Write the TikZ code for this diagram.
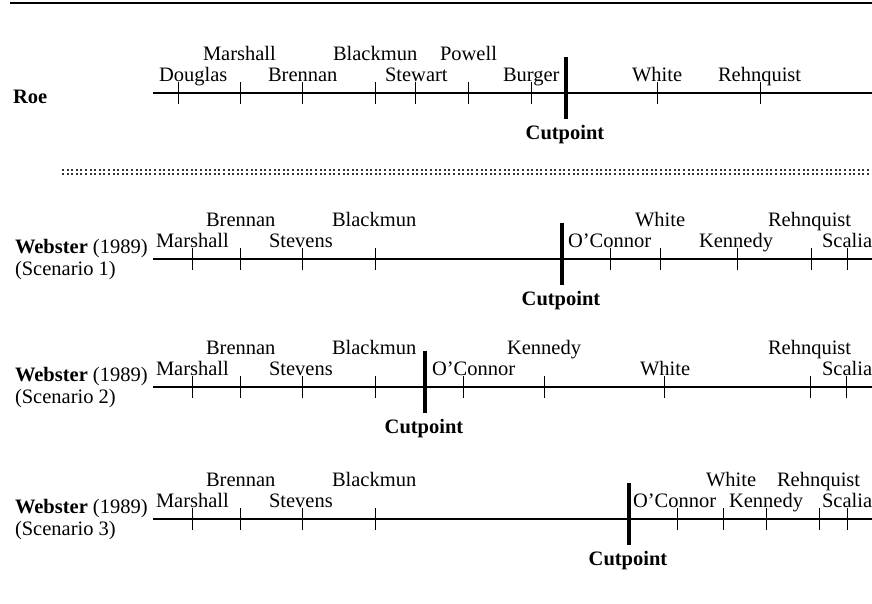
\documentclass[tikz,border=0pt]{standalone}
\usepackage{fontspec}
\setmainfont{Liberation Serif}
\begin{document}
\begin{tikzpicture}[x=1pt,y=-1pt]
\tikzset{
  txt/.style={inner sep=0pt, outer sep=0pt, font=\fontsize{20.5}{24}\selectfont},
  judge/.style={txt, anchor=base west},
  cutlabel/.style={txt, anchor=base, font=\fontsize{20.5}{24}\selectfont\bfseries},
  rowname/.style={txt, anchor=base west},
  axisline/.style={line width=1.4pt},
  tickmark/.style={line width=1pt},
  cutbar/.style={line width=4pt},
  rule/.style={line width=2pt},
  dotrow/.style={line width=2pt, black!80, dash pattern=on 2pt off 2.6pt}
}
\useasboundingbox (0,0) rectangle (872,603);

% top rule
\coordinate (ruleL) at (10,3);
\coordinate (ruleR) at (872,3);
\draw[rule] (ruleL) -- (ruleR);

% ---------- Roe ----------
\begin{scope}[shift={(0,93)}]
  \node[rowname, font=\fontsize{20.5}{24}\selectfont\bfseries] (roe) at (13,10) {Roe};
  \coordinate (roeL) at (153,0);
  \coordinate (roeR) at (872,0);
  \draw[axisline] (roeL) -- (roeR);
  \foreach \x [count=\i] in {178,240,302,375,415,468,531,657,760}
    \draw[tickmark] (\x,-11) coordinate (roeT\i) -- (\x,11);
  \foreach \x/\n [count=\i] in {203/Marshall,333/Blackmun,440/Powell}
    \node[judge] (roeUp\i) at (\x,-32.5) {\n};
  \foreach \x/\n [count=\i] in {159/Douglas,268/Brennan,385/Stewart,503/Burger,632/White,718/Rehnquist}
    \node[judge] (roeLo\i) at (\x,-11.5) {\n};
  \coordinate (roeCutTop) at (566,-36);
  \coordinate (roeCutBot) at (566,26);
  \draw[cutbar] (roeCutTop) -- (roeCutBot);
  \node[cutlabel] (roeCut) at (565,46.5) {Cutpoint};
\end{scope}

% dotted separator
\coordinate (sepAL) at (62,169.5);
\coordinate (sepAR) at (872,169.5);
\coordinate (sepBL) at (62,174);
\coordinate (sepBR) at (872,174);
\draw[dotrow] (sepAL) -- (sepAR);
\draw[dotrow] (sepBL) -- (sepBR);

% ---------- Webster, scenario 1 ----------
\begin{scope}[shift={(0,259)}]
  \node[rowname] (wa) at (15,-6) {\textbf{Webster} (1989)};
  \node[rowname] (waS) at (15,16) {(Scenario 1)};
  \coordinate (waL) at (153,0);
  \coordinate (waR) at (872,0);
  \draw[axisline] (waL) -- (waR);
  \foreach \x [count=\i] in {192,240,302,375,610,660,737,811,847}
    \draw[tickmark] (\x,-11) coordinate (waT\i) -- (\x,11);
  \foreach \x/\n [count=\i] in {206/Brennan,332/Blackmun,635/White,768/Rehnquist}
    \node[judge] (waUp\i) at (\x,-32.5) {\n};
  \foreach \x/\n [count=\i] in {156/Marshall,269/Stevens,568/O’Connor,699/Kennedy,822/Scalia}
    \node[judge] (waLo\i) at (\x,-11.5) {\n};
  \coordinate (waCutTop) at (562,-36);
  \coordinate (waCutBot) at (562,26);
  \draw[cutbar] (waCutTop) -- (waCutBot);
  \node[cutlabel] (waCut) at (561,46.5) {Cutpoint};
\end{scope}

% ---------- Webster, scenario 2 ----------
\begin{scope}[shift={(0,387)}]
  \node[rowname] (wb) at (15,-6) {\textbf{Webster} (1989)};
  \node[rowname] (wbS) at (15,16) {(Scenario 2)};
  \coordinate (wbL) at (153,0);
  \coordinate (wbR) at (872,0);
  \draw[axisline] (wbL) -- (wbR);
  \foreach \x [count=\i] in {192,240,302,375,463,544,664,810,846}
    \draw[tickmark] (\x,-11) coordinate (wbT\i) -- (\x,11);
  \foreach \x/\n [count=\i] in {206/Brennan,332/Blackmun,507/Kennedy,768/Rehnquist}
    \node[judge] (wbUp\i) at (\x,-32.5) {\n};
  \foreach \x/\n [count=\i] in {156/Marshall,269/Stevens,432/O’Connor,640/White,822/Scalia}
    \node[judge] (wbLo\i) at (\x,-11.5) {\n};
  \coordinate (wbCutTop) at (425,-36);
  \coordinate (wbCutBot) at (425,26);
  \draw[cutbar] (wbCutTop) -- (wbCutBot);
  \node[cutlabel] (wbCut) at (424,46.5) {Cutpoint};
\end{scope}

% ---------- Webster, scenario 3 ----------
\begin{scope}[shift={(0,519)}]
  \node[rowname] (wc) at (15,-6) {\textbf{Webster} (1989)};
  \node[rowname] (wcS) at (15,16) {(Scenario 3)};
  \coordinate (wcL) at (153,0);
  \coordinate (wcR) at (872,0);
  \draw[axisline] (wcL) -- (wcR);
  \foreach \x [count=\i] in {192,240,302,375,677,723,766,819,847}
    \draw[tickmark] (\x,-11) coordinate (wcT\i) -- (\x,11);
  \foreach \x/\n [count=\i] in {206/Brennan,332/Blackmun,706/White,777/Rehnquist}
    \node[judge] (wcUp\i) at (\x,-32.5) {\n};
  \foreach \x/\n [count=\i] in {156/Marshall,269/Stevens,633/O’Connor,729/Kennedy,822/Scalia}
    \node[judge] (wcLo\i) at (\x,-11.5) {\n};
  \coordinate (wcCutTop) at (629,-36);
  \coordinate (wcCutBot) at (629,26);
  \draw[cutbar] (wcCutTop) -- (wcCutBot);
  \node[cutlabel] (wcCut) at (628,46.5) {Cutpoint};
\end{scope}
\end{tikzpicture}
\end{document}
